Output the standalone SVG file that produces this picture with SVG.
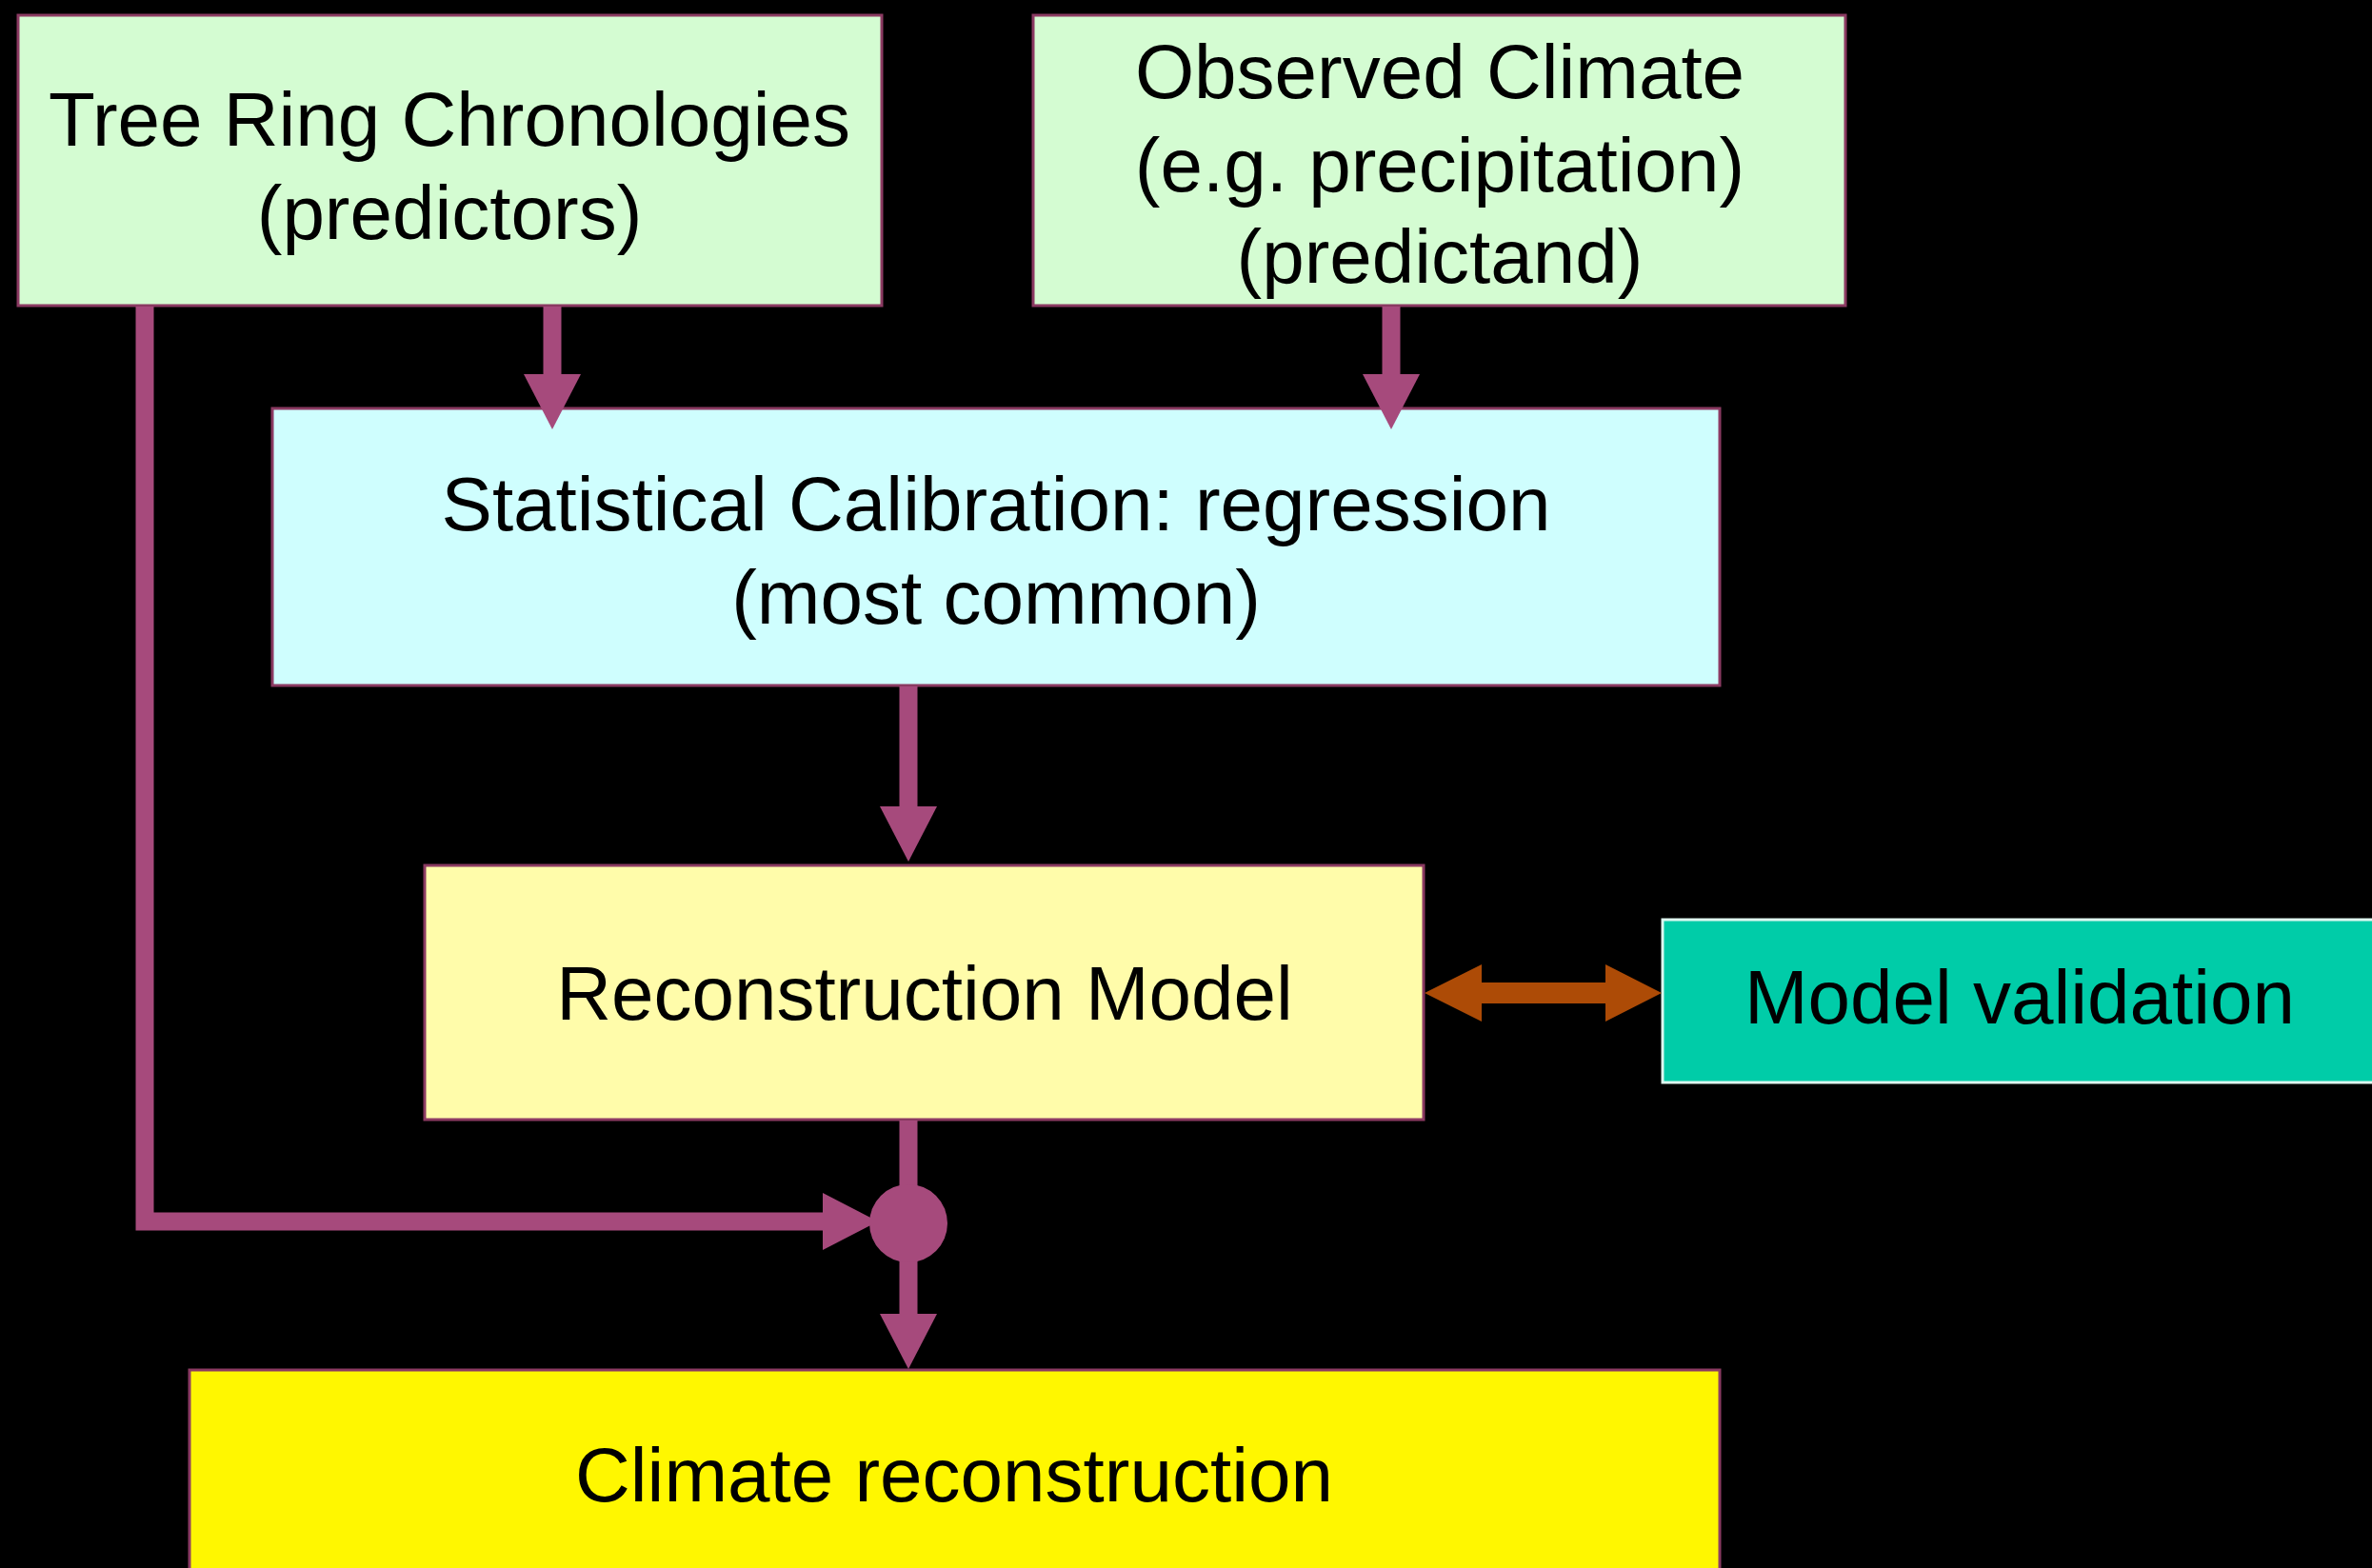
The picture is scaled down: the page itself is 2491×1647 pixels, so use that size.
<svg xmlns="http://www.w3.org/2000/svg" width="2491" height="1647" viewBox="0 0 2491 1647">
<defs>
<style>
.box{stroke:#8B3A62;stroke-width:3}
.lbl{font-family:"Liberation Sans",Arial,sans-serif;font-size:80px;fill:#000;text-anchor:middle}
.conn{fill:none;stroke:#A64A7C;stroke-width:19}
</style>
<marker id="ah" markerUnits="userSpaceOnUse" markerWidth="60" markerHeight="62" refX="2" refY="31" orient="auto" viewBox="0 0 60 62">
<path d="M0,1 L58,31 L0,61 z" fill="#A64A7C"/>
</marker>
</defs>
<rect x="0" y="0" width="2491" height="1647" fill="#000"/>
<g id="tree-ring">
<rect class="box" x="19" y="16" width="907" height="305" fill="#D4FCD2"/>
<text class="lbl" x="472" y="153">Tree Ring Chronologies</text>
<text class="lbl" x="472" y="251">(predictors)</text>
</g>
<g id="observed-climate">
<rect class="box" x="1085" y="16" width="853" height="305" fill="#D4FCD2"/>
<text class="lbl" x="1512" y="103">Observed Climate</text>
<text class="lbl" x="1512" y="201">(e.g. precipitation)</text>
<text class="lbl" x="1512" y="297">(predictand)</text>
</g>
<g id="calibration">
<rect class="box" x="286" y="429" width="1520" height="291" fill="#CFFEFE"/>
<text class="lbl" x="1046" y="557">Statistical Calibration: regression</text>
<text class="lbl" x="1046" y="655">(most common)</text>
</g>
<g id="reconstruction-model">
<rect class="box" x="446" y="909" width="1049" height="267" fill="#FFFCAA"/>
<text class="lbl" x="971" y="1071">Reconstruction Model</text>
</g>
<g id="model-validation">
<rect x="1746" y="966" width="750" height="171" fill="#00CCA8" stroke="#DDF8F0" stroke-width="3"/>
<text class="lbl" x="2121" y="1075">Model validation</text>
</g>
<g id="climate-reconstruction">
<rect class="box" x="199" y="1439" width="1607" height="260" fill="#FFF700"/>
<text class="lbl" x="1002" y="1577">Climate reconstruction</text>
</g>
<g id="connectors">
<path class="conn" d="M580 322 V395" marker-end="url(#ah)"/>
<path class="conn" d="M1461 322 V395" marker-end="url(#ah)"/>
<path class="conn" d="M954 721 V849" marker-end="url(#ah)"/>
<path class="conn" d="M954 1177 V1285"/>
<path class="conn" d="M954 1285 V1382" marker-end="url(#ah)"/>
<path class="conn" d="M152 322 V1283 H866" marker-end="url(#ah)"/>
<circle cx="954" cy="1285" r="41" fill="#A64A7C"/>
<polygon points="1496,1043 1556,1013 1556,1032 1686,1032 1686,1013 1745,1043 1686,1073 1686,1054 1556,1054 1556,1073" fill="#AD4B06"/>
</g>
</svg>
